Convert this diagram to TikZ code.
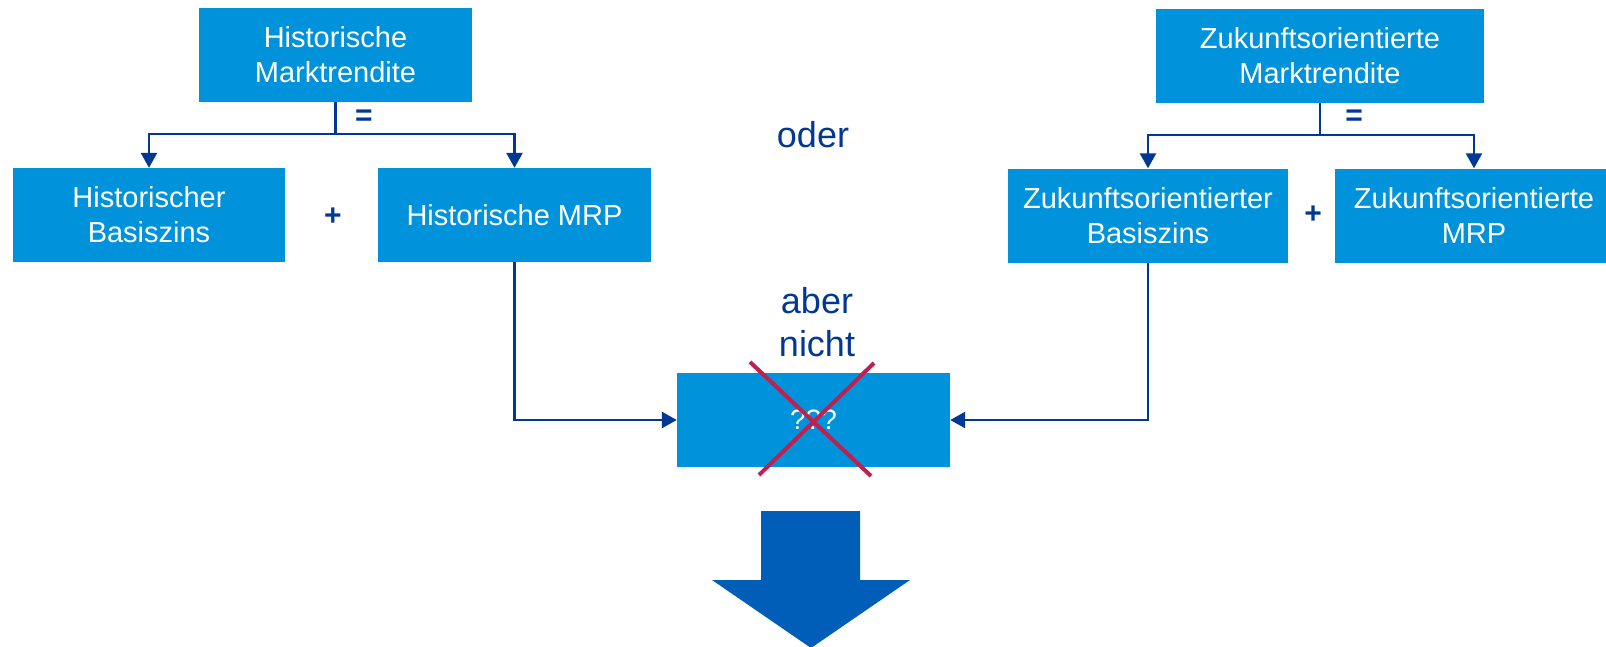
\documentclass[tikz,border=0pt]{standalone}
\usepackage{fontspec}
\setmainfont{Liberation Sans}
\usetikzlibrary{arrows.meta}
\definecolor{boxblue}{RGB}{0,146,218}
\definecolor{lineblue}{RGB}{0,56,147}
\definecolor{arrowblue}{RGB}{0,94,184}
\definecolor{crossred}{RGB}{192,32,80}
\tikzset{
  box/.style={fill=boxblue, text=white, inner sep=0pt, minimum height=94pt, align=center,
    font=\fontsize{29}{35}\selectfont},
  conn/.style={draw=lineblue, line width=2.5pt, -{Triangle[length=15pt,width=16pt]}},
  optext/.style={text=lineblue, font=\fontsize{30}{36}\selectfont\bfseries, inner sep=0pt},
  bigtext/.style={text=lineblue, font=\fontsize{36}{43}\selectfont, inner sep=0pt, align=center},
  crossline/.style={draw=crossred, line width=4pt},
}
\begin{document}
\begin{tikzpicture}[x=1pt,y=-1pt]
\useasboundingbox (0,0) rectangle (1606,646);
% boxes
\node[box, minimum width=273pt] (hm) at (335.5,55) {Historische\\Marktrendite};
\node[box, minimum width=272pt] (hb) at (149,215) {Historischer\\Basiszins};
\node[box, minimum width=273pt] (hmrp) at (514.5,215) {Historische MRP};
\node[box, minimum width=328pt] (zm) at (1320,56) {Zukunftsorientierte\\Marktrendite};
\node[box, minimum width=280pt] (zb) at (1148,215.5) {Zukunftsorientierter\\Basiszins};
\node[box, minimum width=278pt] (zmrp) at (1474,215.5) {Zukunftsorientierte\\MRP};
\node[box, minimum width=273pt, font=\fontsize{28}{34}\selectfont] (q) at (813.5,420) {???};
% operators and words
\node[optext] (eq1) at (364,118) {=};
\node[optext] (pl1) at (333,217) {+};
\node[optext] (eq2) at (1354,118) {=};
\node[optext] (pl2) at (1313,215) {+};
\node[bigtext, anchor=base] (oder) at (813,147) {oder};
\node[bigtext] (aber) at (817,322) {aber\\nicht};
% connectors
\draw[conn] (hm.south) -- ++(0,32) coordinate (hmj) -| (hb.north);
\draw[conn] (hmj) -| (hmrp.north);
\draw[conn] (zm.south) -- ++(0,32) coordinate (zmj) -| (zb.north);
\draw[conn] (zmj) -| (zmrp.north);
\draw[conn] (hmrp.south) |- (q.west);
\draw[conn] (zb.south) |- (q.east);
% cross
\draw[crossline] (750,362) -- (871,476);
\draw[crossline] (874,363) -- (759,475);
% big arrow
\fill[arrowblue] (761,511) -- (860,511) -- (860,580) -- (910,580) -- (811,648) -- (712,580) -- (761,580) -- cycle;
\end{tikzpicture}
\end{document}
